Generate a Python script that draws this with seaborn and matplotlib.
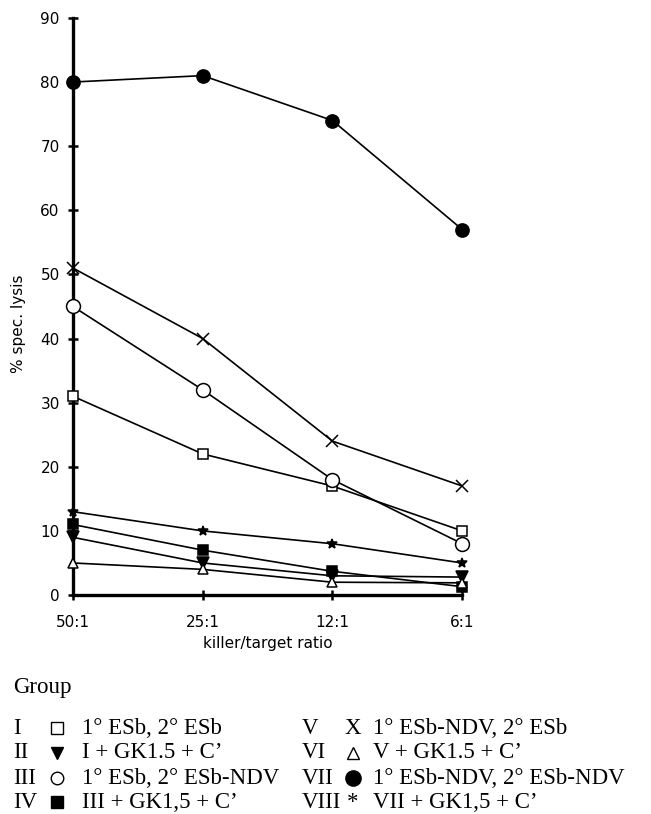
import pandas as pd
import matplotlib.pyplot as plt
from matplotlib.lines import Line2D
import seaborn as sns

sns.set_style("ticks", {'axes.edgecolor': 'black', 'text.color': 'black',
                        'axes.labelcolor': 'black', 'xtick.color': 'black',
                        'ytick.color': 'black'})
plt.rcParams['font.family'] = ['DejaVu Sans']

# ===== DATA =====
ratios = ['50:1', '25:1', '12:1', '6:1']
groups = ['I', 'II', 'III', 'IV', 'V', 'VI', 'VII', 'VIII']
lysis_I = [31, 22, 17, 10]
lysis_II = [9, 5, 3, 2.8]
lysis_III = [45, 32, 18, 8]
lysis_IV = [11, 7, 3.7, 1.3]
lysis_V = [51, 40, 24, 17]
lysis_VI = [5, 4, 2, 1.9]
lysis_VII = [80, 81, 74, 57]
lysis_VIII = [13, 10, 8, 5]
descriptions = ["1° ESb, 2° ESb", "I + GK1.5 + C’", "1° ESb, 2° ESb-NDV", "III + GK1,5 + C’",
                "1° ESb-NDV, 2° ESb", "V + GK1.5 + C’", "1° ESb-NDV, 2° ESb-NDV", "VII + GK1,5 + C’"]

series = [lysis_I, lysis_II, lysis_III, lysis_IV, lysis_V, lysis_VI, lysis_VII, lysis_VIII]

rows = []
for g, vals in zip(groups, series):
    for i, v in enumerate(vals):
        rows.append({'group': g, 'pos': i, 'lysis': v})
df = pd.DataFrame(rows)

# marker style per group: (marker, size, facecolor)
styles = {
    'I': ('s', 7, 'white'),
    'II': ('v', 8, 'black'),
    'III': ('o', 10, 'white'),
    'IV': ('s', 7.5, 'black'),
    'V': ('x', 9, 'black'),
    'VI': ('^', 7.5, 'white'),
    'VII': ('o', 9.5, 'black'),
    'VIII': ('*', 7, 'black'),
}

fig = plt.figure(figsize=(6.51, 8.14), dpi=100)
ax = fig.add_axes([0.112, 0.269, 0.598, 0.709])

for g in groups:
    m, ms, fc = styles[g]
    sub = df[df['group'] == g]
    sns.lineplot(data=sub, x='pos', y='lysis', ax=ax, color='black', lw=1.2,
                 marker=m, markersize=ms, markerfacecolor=fc,
                 markeredgecolor='black', markeredgewidth=1.1,
                 clip_on=False, zorder=3, legend=False)

ax.set_xlim(0, 3)
ax.set_ylim(0, 90)
ax.set_yticks(range(0, 91, 10))
ax.set_xticks(range(len(ratios)))
ax.set_xticklabels(ratios)
ax.tick_params(axis='both', direction='inout', length=7, width=1.8, labelsize=11, pad=6,
               colors='black')
ax.tick_params(axis='x', pad=11)
ax.set_xlabel('killer/target ratio', fontsize=11, labelpad=4, color='black')
ax.set_ylabel('% spec. lysis', fontsize=11, color='black')
ax.yaxis.set_label_coords(-0.12, 0.47)
sns.despine(ax=ax)
ax.spines['left'].set_linewidth(2.4)
ax.spines['bottom'].set_linewidth(2.4)
ax.spines['left'].set_color('black')
ax.spines['bottom'].set_color('black')
ax.set_facecolor('white')

# Legend block drawn in figure coordinates
W, H = 651, 814
serif = ['Liberation Serif', 'DejaVu Serif']
fs = 16.5
fig.text(13 / W, 1 - 688 / H, 'Group', fontsize=fs, family=serif, va='center', color='black')
row_y = [728, 753, 778, 802]
sym_style = {
    'I': ('s', 8, 'white'),
    'II': ('v', 9, 'black'),
    'III': ('o', 9, 'white'),
    'IV': ('s', 8.5, 'black'),
    'VI': ('^', 8, 'white'),
    'VII': ('o', 11, 'black'),
}
for i, (g, desc) in enumerate(zip(groups, descriptions)):
    col = i // 4
    y = 1 - row_y[i % 4] / H
    x0 = [13, 302][col]
    xs = [57, 353][col]
    xt = [82, 373][col]
    fig.text(x0 / W, y, g, fontsize=fs, family=serif, va='center', color='black')
    if g in sym_style:
        m, ms, fc = sym_style[g]
        fig.add_artist(Line2D([xs / W], [y], transform=fig.transFigure, marker=m,
                              markersize=ms, markerfacecolor=fc,
                              markeredgecolor='black', markeredgewidth=1.0, ls='none'))
    else:
        glyph = 'X' if g == 'V' else '*'
        fig.text(xs / W, y, glyph, fontsize=fs, family=serif, va='center', ha='center',
                 color='black')
    fig.text(xt / W, y, desc, fontsize=fs, family=serif, va='center', color='black')

plt.savefig('out.png', dpi=100)
